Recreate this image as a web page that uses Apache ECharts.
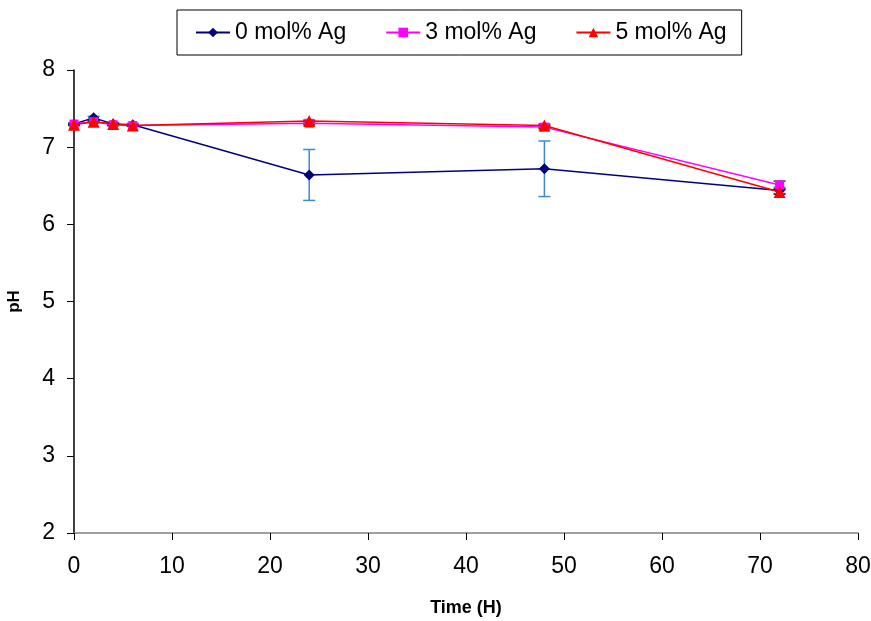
<!DOCTYPE html>
<html><head><meta charset="utf-8">
<script src="https://cdn.jsdelivr.net/npm/echarts@6/dist/echarts.min.js"></script>
<style>html,body{margin:0;padding:0;background:#fff}#c{width:871px;height:621px}</style>
</head><body><div id="c"></div>
<script>
var times = [0, 2, 4, 6, 24, 48, 72];
var seriesNames = ['0 mol% Ag', '3 mol% Ag', '5 mol% Ag'];
var ph0 = [7.30, 7.38, 7.30, 7.29, 6.64, 6.72, 6.44];
var err0 = [0.01, 0.02, 0.02, 0.02, 0.33, 0.36, 0.04];
var ph3 = [7.30, 7.33, 7.29, 7.28, 7.31, 7.26, 6.51];
var err3 = [0.01, 0.01, 0.01, 0.01, 0.02, 0.02, 0.05];
var ph5 = [7.29, 7.33, 7.30, 7.28, 7.34, 7.28, 6.42];
var err5 = [0.01, 0.01, 0.01, 0.01, 0.01, 0.02, 0.03];
var xTicks = [0, 10, 20, 30, 40, 50, 60, 70, 80];
var yTicks = [2, 3, 4, 5, 6, 7, 8];

function pairs(v){ return times.map(function(t,i){ return [t, v[i]]; }); }
function errData(v, e){ return times.map(function(t,i){ return [t, v[i]-e[i], v[i]+e[i]]; }); }
function errSeries(v, e, color, z){
  return {
    type: 'custom', z: z, silent: true,
    data: errData(v, e),
    encode: {x: 0, y: [1, 2]},
    renderItem: function(params, api){
      var x = api.value(0);
      var lo = api.coord([x, api.value(1)]);
      var hi = api.coord([x, api.value(2)]);
      var w = 6;
      var st = {stroke: color, lineWidth: 1.5, fill: null};
      return {type: 'group', children: [
        {type: 'line', shape: {x1: lo[0], y1: lo[1], x2: hi[0], y2: hi[1]}, style: st},
        {type: 'line', shape: {x1: lo[0]-w, y1: lo[1], x2: lo[0]+w, y2: lo[1]}, style: st},
        {type: 'line', shape: {x1: hi[0]-w, y1: hi[1], x2: hi[0]+w, y2: hi[1]}, style: st}
      ]};
    }
  };
}
var font = 'Liberation Sans, Arial, sans-serif';
var chart = echarts.init(document.getElementById('c'));
chart.setOption({
  animation: false,
  backgroundColor: '#fff',
  grid: {left: 74, right: 13, top: 70, bottom: 88, containLabel: false, outerBoundsMode: 'none'},
  legend: {
    data: seriesNames,
    left: 177, top: 10,
    padding: [11, 15, 11, 18],
    borderColor: '#000', borderWidth: 1,
    itemGap: 39, itemWidth: 34, itemHeight: 12,
    textStyle: {fontFamily: font, fontSize: 23, color: '#000'}
  },
  xAxis: {
    type: 'value', min: 0, max: 80, interval: 10,
    name: 'Time (H)', nameLocation: 'middle', nameGap: 66,
    nameTextStyle: {fontFamily: font, fontSize: 18, fontWeight: 'bold', color: '#000'},
    axisLine: {show: true, lineStyle: {color: '#808080', width: 1.5}},
    axisTick: {show: true, inside: false, length: 7, lineStyle: {color: '#000'}},
    axisLabel: {fontFamily: font, fontSize: 23, color: '#000', margin: 22,
      formatter: function(v){ return xTicks.indexOf(v) >= 0 ? String(v) : ''; }},
    splitLine: {show: false}
  },
  yAxis: {
    type: 'value', min: 2, max: 8, interval: 1,
    name: 'pH', nameLocation: 'middle', nameGap: 51, nameRotate: 90,
    nameTextStyle: {fontFamily: font, fontSize: 17, fontWeight: 'bold', color: '#000'},
    axisLine: {show: true, lineStyle: {color: '#000', width: 1.5}},
    axisTick: {show: true, inside: false, length: 7, lineStyle: {color: '#000'}},
    axisLabel: {fontFamily: font, fontSize: 23, color: '#000', margin: 19,
      formatter: function(v){ return yTicks.indexOf(v) >= 0 ? String(v) : ''; }},
    splitLine: {show: false}
  },
  series: [
    errSeries(ph0, err0, '#3a8ad8', 2),
    errSeries(ph3, err3, '#333', 2),
    errSeries(ph5, err5, '#333', 2),
    {name: seriesNames[0], type: 'line', data: pairs(ph0), z: 3,
     symbol: 'diamond', symbolSize: 11,
     lineStyle: {color: '#000080', width: 1.5}, itemStyle: {color: '#000080'}},
    {name: seriesNames[1], type: 'line', data: pairs(ph3), z: 4,
     symbol: 'rect', symbolSize: 9,
     lineStyle: {color: '#ff00ff', width: 1.5}, itemStyle: {color: '#ff00ff'}},
    {name: seriesNames[2], type: 'line', data: pairs(ph5), z: 5,
     symbol: 'triangle', symbolSize: 12,
     lineStyle: {color: '#ff0000', width: 1.5}, itemStyle: {color: '#ff0000'}}
  ]
});
</script></body></html>
